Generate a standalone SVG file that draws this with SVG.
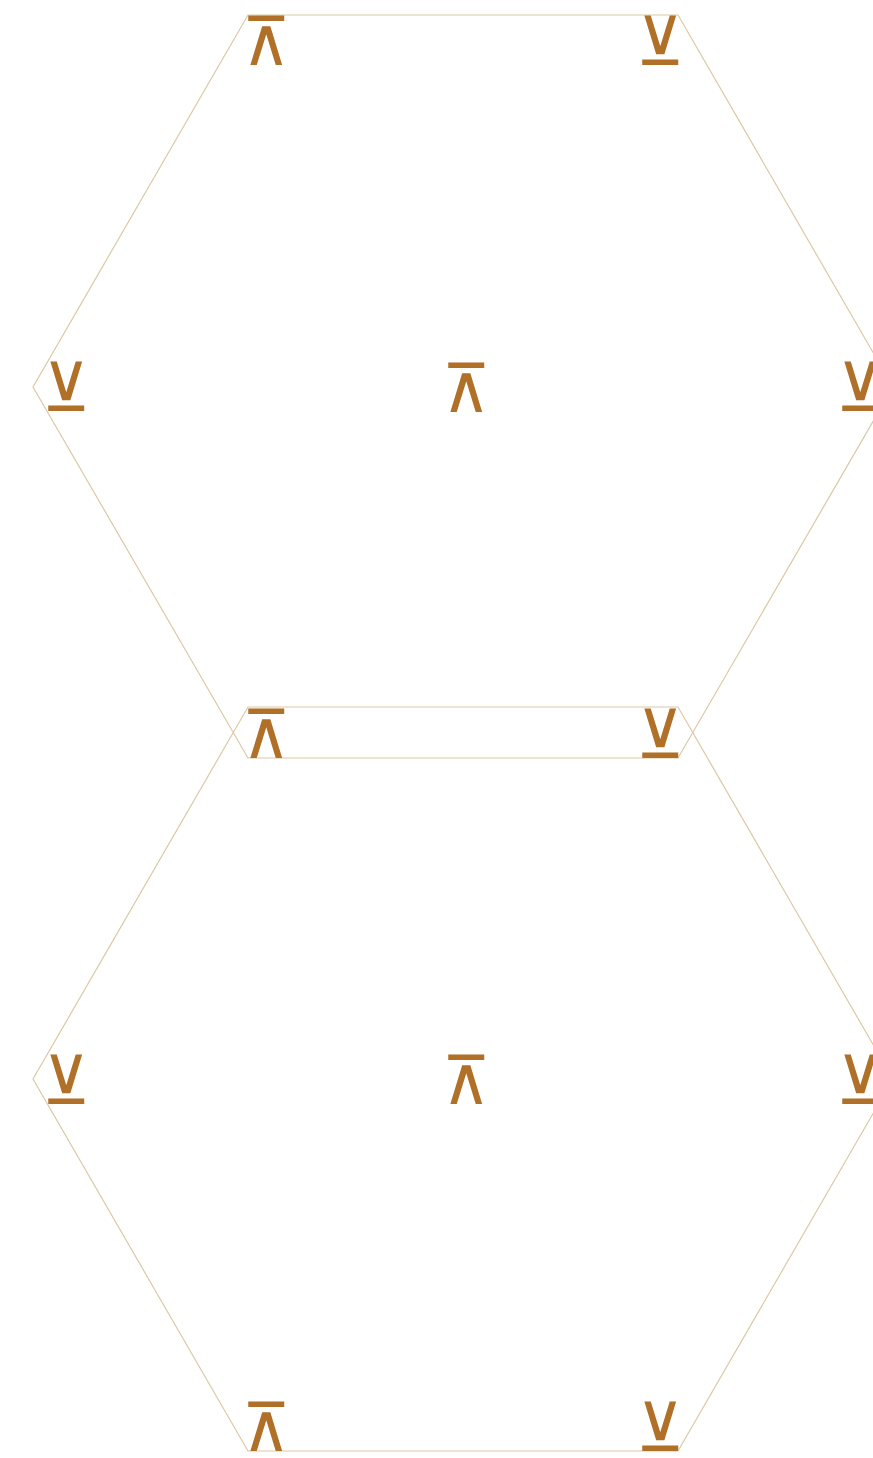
<svg xmlns="http://www.w3.org/2000/svg" width="873" height="1458" viewBox="0 0 873 1458">
<style>
.edge{fill:none;stroke:#dcc8a4;stroke-width:1.2}
.g{font-family:"DejaVu Sans",sans-serif;font-size:67px;fill:#b07028;text-anchor:middle}
</style>
<rect width="873" height="1458" fill="#ffffff"/>
<g id="connectors">
<polygon class="edge" points="248,15 678,15 893,387 678,758 248,758 33,387"/>
<polygon class="edge" points="248,707 678,707 893,1079 678,1451 248,1451 33,1079"/>
</g>
<g id="n1"><text class="g" x="266" y="65">⊼</text></g>
<g id="n2"><text class="g" x="660" y="65">⊻</text></g>
<g id="n3"><text class="g" x="66" y="411">⊻</text></g>
<g id="n4"><text class="g" x="466" y="412">⊼</text></g>
<g id="n5"><text class="g" x="860" y="411">⊻</text></g>
<g id="n6"><text class="g" x="266" y="758">⊼</text></g>
<g id="n7"><text class="g" x="660" y="758">⊻</text></g>
<g id="n8"><text class="g" x="66" y="1104">⊻</text></g>
<g id="n9"><text class="g" x="466" y="1104">⊼</text></g>
<g id="n10"><text class="g" x="860" y="1104">⊻</text></g>
<g id="n11"><text class="g" x="266" y="1451">⊼</text></g>
<g id="n12"><text class="g" x="660" y="1451">⊻</text></g>
</svg>
